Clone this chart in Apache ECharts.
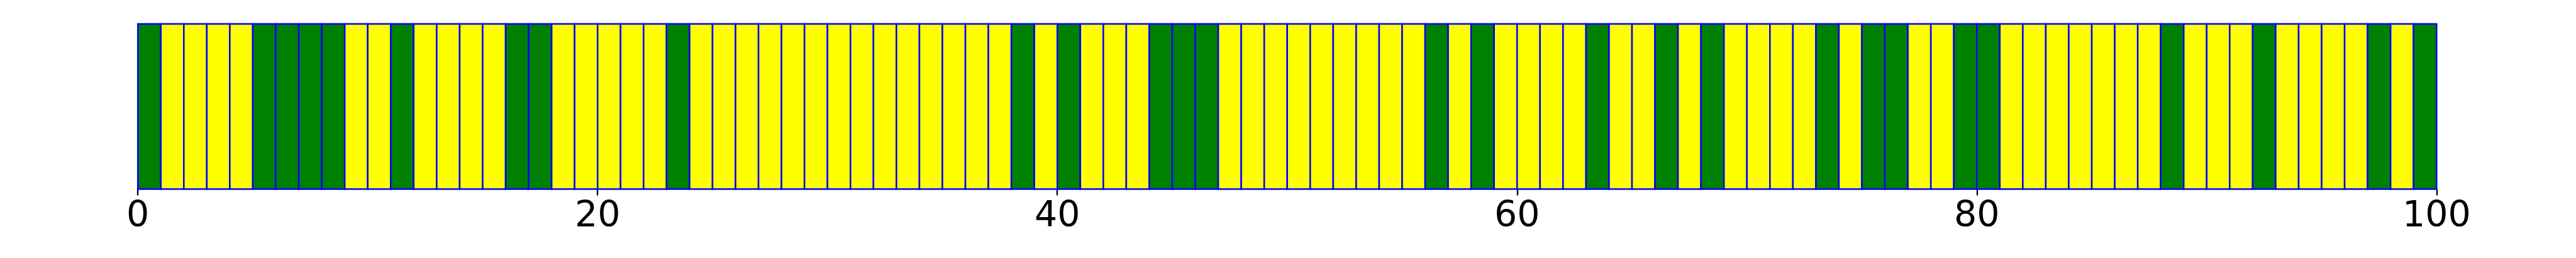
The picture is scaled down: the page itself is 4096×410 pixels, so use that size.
<!DOCTYPE html>
<html>
<head>
<meta charset="utf-8">
<script src="https://cdn.jsdelivr.net/npm/echarts@6/dist/echarts.min.js"></script>
<style>
  html, body { margin: 0; padding: 0; background: #ffffff; }
  #chart { width: 4096px; height: 410px; }
</style>
</head>
<body>
<div id="chart"></div>
<script>
// Bar left edges (x units), bar heights, and fill colour key per bar
const barStart = [
  0,1,2,3,4,5,6,7,8,9,10,11,12,13,14,15,16,17,18,19,
  20,21,22,23,24,25,26,27,28,29,30,31,32,33,34,35,36,37,38,39,
  40,41,42,43,44,45,46,47,48,49,50,51,52,53,54,55,56,57,58,59,
  60,61,62,63,64,65,66,67,68,69,70,71,72,73,74,75,76,77,78,79,
  80,81,82,83,84,85,86,87,88,89,90,91,92,93,94,95,96,97,98,99
];
const barHeight = [
  1,1,1,1,1,1,1,1,1,1,1,1,1,1,1,1,1,1,1,1,
  1,1,1,1,1,1,1,1,1,1,1,1,1,1,1,1,1,1,1,1,
  1,1,1,1,1,1,1,1,1,1,1,1,1,1,1,1,1,1,1,1,
  1,1,1,1,1,1,1,1,1,1,1,1,1,1,1,1,1,1,1,1,
  1,1,1,1,1,1,1,1,1,1,1,1,1,1,1,1,1,1,1,1
];
const barColorKey = [
  'G','Y','Y','Y','Y','G','G','G','G','Y',
  'Y','G','Y','Y','Y','Y','G','G','Y','Y',
  'Y','Y','Y','G','Y','Y','Y','Y','Y','Y',
  'Y','Y','Y','Y','Y','Y','Y','Y','G','Y',
  'G','Y','Y','Y','G','G','G','Y','Y','Y',
  'Y','Y','Y','Y','Y','Y','G','Y','G','Y',
  'Y','Y','Y','G','Y','Y','G','Y','G','Y',
  'Y','Y','Y','G','Y','G','G','Y','Y','G',
  'G','Y','Y','Y','Y','Y','Y','Y','G','Y',
  'Y','Y','G','Y','Y','Y','Y','G','Y','G'
];
const barWidthUnits = 1;
const xTicks = [0, 20, 40, 60, 80, 100];

const palette = { G: '#008000', Y: '#ffff00' };
const edgeColor = '#0000ff';

const data = barStart.map((s, i) => ({
  value: [s, s + barWidthUnits, barHeight[i]],
  itemStyle: { color: palette[barColorKey[i]] }
}));

const chart = echarts.init(document.getElementById('chart'), null, { renderer: 'canvas' });
chart.setOption({
  animation: false,
  backgroundColor: '#ffffff',
  grid: { left: 219.2, right: 221.7, top: 38, bottom: 109.5, containLabel: false },
  xAxis: {
    type: 'value',
    min: xTicks[0],
    max: xTicks[xTicks.length - 1],
    interval: xTicks[1] - xTicks[0],
    axisLine: { show: false },
    axisTick: { show: true, length: 10, lineStyle: { color: '#000000', width: 2.3 } },
    axisLabel: {
      show: true, margin: 16, color: '#000000', fontSize: 57,
      fontFamily: 'DejaVu Sans', showMinLabel: true, showMaxLabel: true
    },
    splitLine: { show: false }
  },
  yAxis: { type: 'value', min: 0, max: 1, show: false },
  series: [{
    type: 'custom',
    data: data,
    renderItem: function (params, api) {
      const p0 = api.coord([api.value(0), 0]);
      const p1 = api.coord([api.value(1), api.value(2)]);
      return {
        type: 'rect',
        shape: { x: p0[0], y: p1[1], width: p1[0] - p0[0], height: p0[1] - p1[1] },
        style: { fill: api.visual('color'), stroke: edgeColor, lineWidth: 2.5 }
      };
    }
  }]
});
</script>
</body>
</html>
